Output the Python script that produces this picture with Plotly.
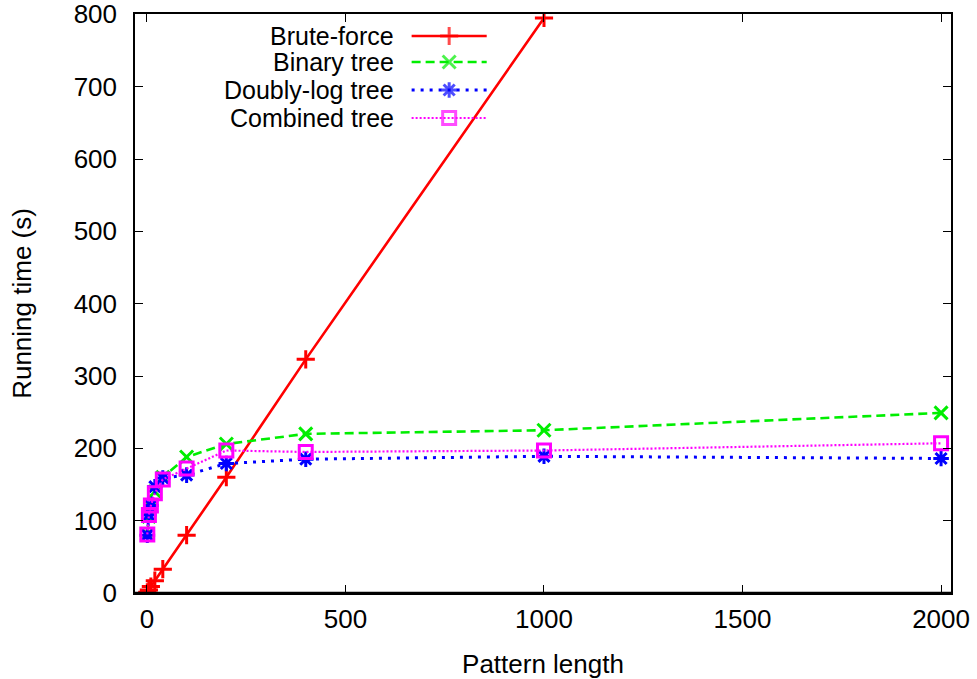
import plotly.graph_objects as go

# ---- data ----
pattern_len = [1, 5, 10, 20, 40, 100, 200, 400, 1000, 2000]
brute_len = [1, 5, 10, 20, 40, 100, 200, 400, 1000]
brute_force = [1, 4, 9, 17, 33, 80, 160, 323, 795]
binary_tree = [81, 106, 120, 140, 160, 188, 206, 220, 225, 249]
doublylog_tree = [80, 108, 121, 147, 159, 163, 179, 185, 189, 186]
combined_tree = [81, 108, 121, 138, 157, 172, 197, 195, 197, 207]

series_names = ["Brute-force", "Binary tree", "Doubly-log tree", "Combined tree"]
x_ticks = [0, 500, 1000, 1500, 2000]
y_ticks = [0, 100, 200, 300, 400, 500, 600, 700, 800]

FONT = "Liberation Sans, Arial, Helvetica, sans-serif"
FS = 26
KEY_FS = 25

styles = [
    dict(color="#ff0000", dash="solid", symbol="cross-thin-open", size=13, lw=2.6),
    dict(color="#00ee00", dash="9px,5px", symbol="x-thin-open", size=13, lw=2.6),
    dict(color="#0000ff", dash="3px,6px", symbol="asterisk-open", size=13, lw=3.0),
    dict(color="#ff00ff", dash="2px,2px", symbol="square-open", size=13, lw=2.2),
]

xs = [brute_len, pattern_len, pattern_len, pattern_len]
ys = [brute_force, binary_tree, doublylog_tree, combined_tree]

fig = go.Figure()
for name, x, y, st in zip(series_names, xs, ys, styles):
    fig.add_trace(go.Scatter(
        x=x, y=y, mode="lines+markers", name=name, showlegend=False,
        line=dict(color=st["color"], dash=st["dash"], width=st["lw"]),
        marker=dict(symbol=st["symbol"], size=st["size"], color=st["color"],
                    line=dict(color=st["color"], width=3)),
        cliponaxis=True,
    ))

# ---- gnuplot-style key (text on the left, sample on the right) ----
key_rows = [0.9620, 0.9171, 0.8687, 0.8204]
key_x0, key_x1, key_text_x = 0.339, 0.431, 0.3195
for name, st, ky in zip(series_names, styles, key_rows):
    fig.add_trace(go.Scatter(
        x=[key_x0, (key_x0 + key_x1) / 2, key_x1], y=[ky, ky, ky],
        xaxis="x2", yaxis="y2", mode="lines+markers", showlegend=False,
        hoverinfo="skip",
        line=dict(color=st["color"], dash=st["dash"], width=st["lw"]),
        marker=dict(symbol=st["symbol"], size=[0, st["size"], 0], color=st["color"],
                    line=dict(color=st["color"], width=3)),
    ))
    fig.add_annotation(x=key_text_x, y=ky, xref="paper", yref="paper",
                       text=name, showarrow=False, xanchor="right", yanchor="middle",
                       font=dict(family=FONT, size=KEY_FS, color="black"))

axis_common = dict(showline=True, linecolor="black", linewidth=1.5, mirror="ticks",
                   ticks="inside", ticklen=8, tickwidth=1.2, tickcolor="black",
                   showgrid=False, zeroline=False, automargin=False,
                   ticklabeloverflow="allow",
                   tickfont=dict(family=FONT, size=FS, color="black"))

fig.update_layout(
    width=977, height=679,
    margin=dict(l=135, r=26, t=14, b=86),
    paper_bgcolor="white", plot_bgcolor="white",
    font=dict(family=FONT, size=FS, color="black"),
    xaxis=dict(range=[-30, 2025], tickvals=x_ticks, ticklabelstandoff=2,
               title=dict(text="Pattern length", font=dict(family=FONT, size=FS), standoff=30),
               **axis_common),
    yaxis=dict(range=[0, 800.5], tickvals=y_ticks, ticklabelstandoff=11,
               title=dict(text="Running time (s)", font=dict(family=FONT, size=FS), standoff=35),
               **axis_common),
    xaxis2=dict(overlaying="x", range=[0, 1], visible=False, fixedrange=True),
    yaxis2=dict(overlaying="y", range=[0, 1], visible=False, fixedrange=True),
)
# thicker bottom border like the reference
fig.add_shape(type="line", xref="paper", yref="paper", x0=0, x1=1, y0=0, y1=0,
              line=dict(color="black", width=2.5))

fig.write_html("out.html", config={"displayModeBar": False},
               post_script="document.body.style.margin='0px';")
